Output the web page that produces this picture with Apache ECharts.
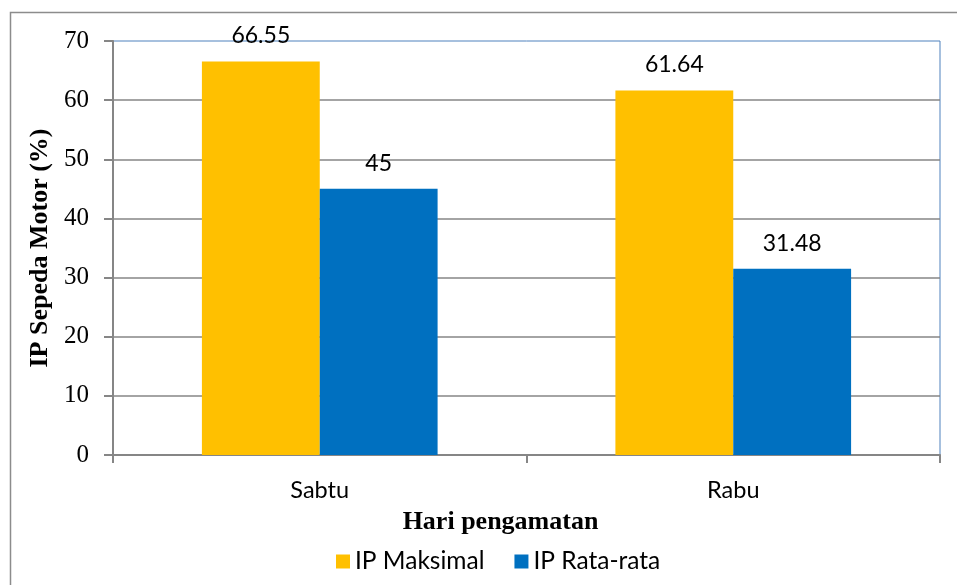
<!DOCTYPE html>
<html>
<head>
<meta charset="utf-8">
<script src="https://cdn.jsdelivr.net/npm/echarts@6/dist/echarts.min.js"></script>
<style>
  html, body { margin: 0; padding: 0; background: #fff; }
  #chart { width: 957px; height: 585px; }
</style>
</head>
<body>
<div id="chart"></div>
<script>
// data
const days = ["Sabtu", "Rabu"];
const ipMaksimal = [66.55, 61.64];
const ipRataRata = [45, 31.48];

const serif = "Liberation Serif";
const sans = "Lato";

const chart = echarts.init(document.getElementById("chart"));
const option = {
  animation: false,
  grid: {
    left: 113,
    right: 17,
    top: 41,
    bottom: 130,
    show: true,
    borderColor: "#4f81bd",
    borderWidth: 1,
  },
  graphic: [
    {
      type: "rect",
      shape: { x: 10.5, y: 12.5, width: 980, height: 620 },
      style: { fill: "none", stroke: "#8c8c8c", lineWidth: 1.5 },
      silent: true,
    },
  ],
  legend: {
    bottom: 6,
    left: 331,
    itemWidth: 14,
    itemHeight: 14,
    itemGap: 30,
    icon: "rect",
    textStyle: { fontFamily: sans, fontSize: 24.5, color: "#000" },
    data: ["IP Maksimal", "IP Rata-rata"],
  },
  xAxis: {
    type: "category",
    data: days,
    name: "Hari pengamatan",
    nameLocation: "middle",
    nameGap: 54,
    nameTextStyle: {
      fontFamily: serif,
      fontSize: 26,
      fontWeight: "bold",
      color: "#000",
      padding: [0, 52, 0, 0],
    },
    axisLine: { lineStyle: { color: "#868686", width: 2 } },
    axisTick: { show: true, length: 8, lineStyle: { color: "#868686", width: 2 } },
    axisLabel: { fontFamily: sans, fontSize: 23.5, color: "#000", margin: 23 },
  },
  yAxis: {
    type: "value",
    min: 0,
    max: 70,
    interval: 10,
    name: "IP Sepeda Motor (%)",
    nameLocation: "middle",
    nameGap: 60,
    nameTextStyle: { fontFamily: serif, fontSize: 26, fontWeight: "bold", color: "#000" },
    axisLine: { show: true, lineStyle: { color: "#868686", width: 2 } },
    axisTick: { show: true, length: 9, lineStyle: { color: "#868686", width: 2 } },
    axisLabel: { fontFamily: serif, fontSize: 25, color: "#000", margin: 24 },
    splitLine: { showMaxLine: false, lineStyle: { color: "#868686", width: 1.5 } },
  },
  series: [
    {
      name: "IP Maksimal",
      type: "bar",
      data: ipMaksimal,
      barGap: "0%",
      barCategoryGap: "43%",
      itemStyle: { color: "#ffc000" },
      label: { show: true, position: "top", distance: 14, fontFamily: sans, fontSize: 23, color: "#000" },
    },
    {
      name: "IP Rata-rata",
      type: "bar",
      data: ipRataRata,
      barGap: "0%",
      barCategoryGap: "43%",
      itemStyle: { color: "#0070c0" },
      label: { show: true, position: "top", distance: 14, fontFamily: sans, fontSize: 23, color: "#000" },
    },
  ],
};
chart.setOption(option);
</script>
</body>
</html>
